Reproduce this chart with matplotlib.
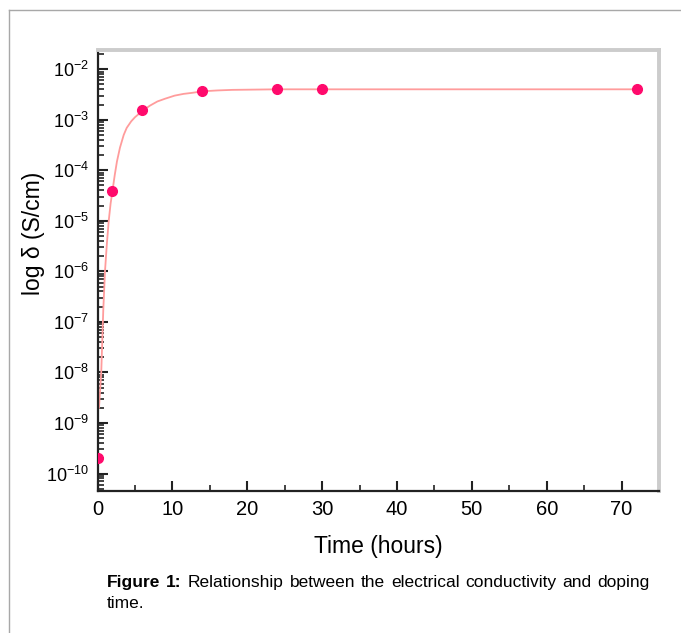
import numpy as np
import matplotlib
matplotlib.use("Agg")
from matplotlib import pyplot as plt
from matplotlib import ticker
from matplotlib.lines import Line2D

plt.rcParams['font.family'] = ['Liberation Sans', 'DejaVu Sans']
plt.rcParams['mathtext.fontset'] = 'custom'
plt.rcParams['mathtext.rm'] = 'Liberation Sans'
plt.rcParams['mathtext.it'] = 'Liberation Sans:italic'
plt.rcParams['mathtext.bf'] = 'Liberation Sans:bold'

# measured points
time_h = [0, 2, 6, 14, 24, 30, 72]
sigma = [2.0e-10, 3.9e-5, 1.55e-3, 3.7e-3, 4.0e-3, 4.0e-3, 4.0e-3]

# fitted curve
fit_t = [0.2, 0.5, 0.77, 1.0, 1.25, 1.5, 1.75, 2.0, 2.3, 2.6, 3.0, 3.5, 3.9,
         4.5, 5.0, 6.0, 7.0, 8.0, 9.0, 10.3, 11.5, 12.6, 14.0, 16.0, 18.0,
         21.0, 24.0, 30.0, 72.0]
fit_s = [2e-9, 1e-8, 1.7e-7, 1e-6, 3.5e-6, 1e-5, 2.2e-5, 3.9e-5, 8e-5, 1.5e-4,
         2.8e-4, 5e-4, 6.9e-4, 9.3e-4, 1.12e-3, 1.5e-3, 1.9e-3, 2.3e-3, 2.6e-3,
         3.0e-3, 3.25e-3, 3.4e-3, 3.65e-3, 3.8e-3, 3.9e-3, 3.95e-3, 4.0e-3,
         4.0e-3, 4.0e-3]

xticks = [0, 10, 20, 30, 40, 50, 60, 70]

W, H = 681, 633
fig = plt.figure(figsize=(W / 100, H / 100), dpi=100)

# page frame
fig.add_artist(Line2D([9 / W, 9 / W], [0, 1 - 10 / H], color='#a8a8a8', lw=1))
fig.add_artist(Line2D([9 / W, 1], [1 - 10 / H, 1 - 10 / H], color='#a8a8a8', lw=1))

ax = fig.add_axes([97.5 / W, 1 - 490.7 / H, (659 - 97.5) / W, (490.7 - 50) / H])

ax.plot(fit_t, fit_s, color='#ff9c9c', lw=1.3, zorder=2)
ax.plot(time_h, sigma, 'o', color='#ff0a6c', ms=7, zorder=3)

ax.set_yscale('log')
ax.set_ylim(10 ** -10.34, 10 ** -1.62)
ax.set_xlim(0, 75)

ax.set_xticks(xticks)
ax.xaxis.set_minor_locator(ticker.MultipleLocator(5))
ax.yaxis.set_major_locator(ticker.LogLocator(base=10, numticks=20))
ax.yaxis.set_minor_locator(ticker.LogLocator(base=10, subs=np.arange(2, 10), numticks=20))
ax.yaxis.set_minor_formatter(ticker.NullFormatter())
ax.yaxis.set_major_formatter(ticker.FuncFormatter(
    lambda v, p: r'$\mathregular{10^{%d}}$' % int(round(np.log10(v)))))

ax.tick_params(which='major', direction='in', length=7, width=1.5, color='#222222')
ax.tick_params(which='minor', direction='in', length=4, width=1.2, color='#222222')
ax.tick_params(axis='y', pad=6, labelsize=13)
ax.tick_params(axis='x', pad=7, labelsize=14.5)

for s in ['left', 'bottom']:
    ax.spines[s].set_color('#222222')
    ax.spines[s].set_linewidth(1.6)
for s in ['top', 'right']:
    ax.spines[s].set_color('#cccccc')
    ax.spines[s].set_linewidth(2.8)

ax.set_xlabel('Time (hours)', fontsize=16.5, labelpad=11)
ax.set_ylabel('log δ (S/cm)', fontsize=16.5)
ax.yaxis.set_label_coords(-0.093, 0.585)

# caption, first line justified between two edges
fig.canvas.draw()
r = fig.canvas.get_renderer()
words = ['Figure', '1:', 'Relationship', 'between', 'the', 'electrical',
         'conductivity', 'and', 'doping']
x_left, x_right, y1 = 107, 650, 1 - 587 / H
arts = []
for i, w in enumerate(words):
    t = fig.text(0, y1, w, fontsize=12.5, va='baseline', ha='left',
                 fontweight='bold' if i < 2 else 'normal')
    arts.append(t)
widths = [a.get_window_extent(r).width for a in arts]
gap = (x_right - x_left - sum(widths)) / (len(words) - 1)
x = x_left
for a, w in zip(arts, widths):
    a.set_x(x / W)
    x += w + gap
fig.text(x_left / W, 1 - 608 / H, 'time.', fontsize=12.5, va='baseline', ha='left')

fig.savefig('out.png', dpi=100)
